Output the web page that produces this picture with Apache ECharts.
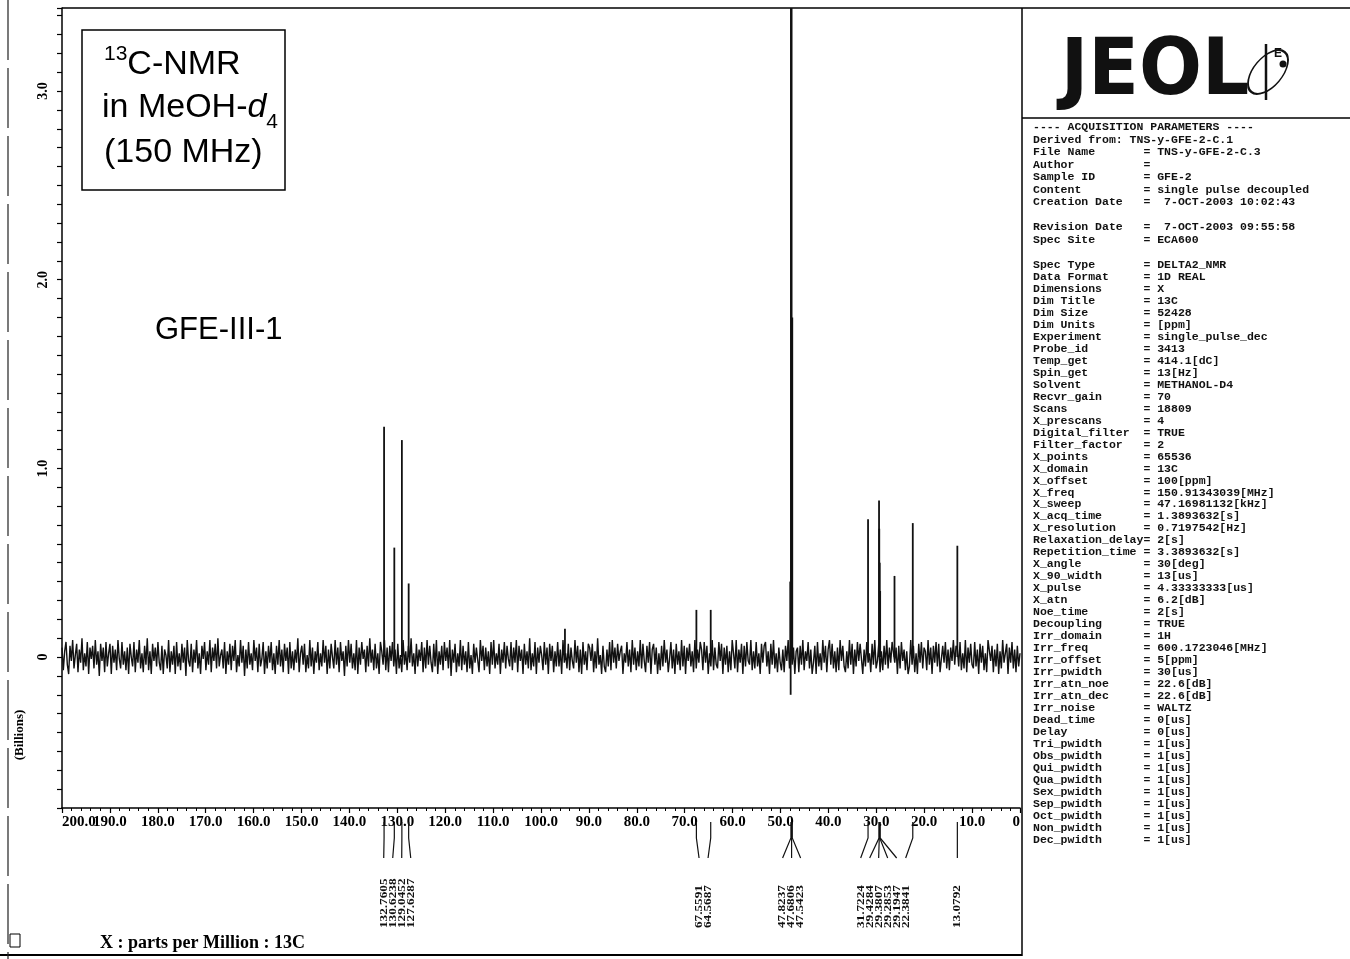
<!DOCTYPE html>
<html>
<head>
<meta charset="utf-8">
<script src="https://cdn.jsdelivr.net/npm/echarts@6/dist/echarts.min.js"></script>
<style>
html, body { margin: 0; padding: 0; background: #fff; }
#main { width: 1350px; height: 959px; }
</style>
</head>
<body>
<div id="main"></div>
<script>
// peak positions (ppm) and heights (billions)
var peakPpm    = [132.7605, 130.6238, 129.0452, 127.6287, 95.0, 67.5591, 64.5687, 47.9652, 47.8237, 47.6806, 47.5423, 47.88, 31.7224, 29.4284, 29.3807, 29.2853, 29.1947, 26.2, 22.3841, 13.0792];
var peakHeight = [1.22, 0.58, 1.15, 0.39, 0.15, 0.25, 0.25, 0.40, 5.0, 5.0, 1.80, -0.20, 0.73, 0.83, 0.68, 0.50, 0.35, 0.43, 0.71, 0.59];

// labelled peaks, grouped the way the pointer lines fan out
var labelGroups = [
  [132.7605, 130.6238, 129.0452, 127.6287],
  [67.5591, 64.5687],
  [47.8237, 47.6806, 47.5423],
  [31.7224, 29.4284, 29.3807, 29.2853, 29.1947, 22.3841],
  [13.0792]
];

// baseline noise, hundredths of a billion, left (200 ppm) to right (0 ppm)
var noise = [
  5,-7,3,8,-4,-9,6,-2,9,-6,1,7,
  -8,4,-3,10,-7,2,-5,8,-9,5,-1,6,
  -6,9,-4,3,-10,7,-2,5,-8,8,-5,2,
  7,-9,6,-3,4,-7,9,-1,-6,8,-4,3,
  -7,5,-9,7,0,-5,8,-8,4,-3,9,-6,
  2,-8,6,-4,10,-7,3,-9,7,-2,5,-5,
  8,-3,-7,6,-9,4,1,-6,9,-8,3,-4,
  6,-9,8,-5,2,-7,7,-3,5,-10,9,-2,
  -5,7,-8,4,-3,9,-6,2,-9,6,-1,8,
  -7,3,-4,9,-8,5,-2,7,-6,10,-5,1,
  4,-6,8,-9,3,-4,7,-7,6,-2,9,-8,
  1,-5,9,-3,6,-10,4,-6,8,-4,2,-7,
  9,-2,5,-8,7,-5,-1,8,-9,3,-6,6,
  -3,8,-7,2,-9,6,-4,9,-5,4,-8,7,
  -2,5,-9,8,-6,3,-7,4,-3,10,-8,2,
  6,-4,7,-8,1,-6,9,-5,5,-9,3,-3,
  8,-7,2,-5,9,-3,6,-9,4,-6,7,0,
  -6,9,-4,5,-8,8,-2,3,-10,6,-5,9,
  -3,7,-6,2,-7,9,-9,5,-4,8,-1,4,
  -8,6,-5,10,-3,4,-7,7,-6,2,-9,8,
  3,-4,9,-7,5,-8,6,-2,8,-5,4,-9,
  7,-6,1,-8,9,-4,3,-7,6,-3,10,-5,
  2,-9,7,-5,4,-2,8,-8,5,-6,9,-4,
  6,-3,-8,7,-5,9,-9,3,-4,6,-7,8,
  -2,5,-6,9,-10,4,-3,7,-8,2,-5,9,
  -7,6,-4,3,-8,8,-6,1,-9,7,-3,5,
  4,-8,9,-2,6,-7,5,-5,3,-9,8,-4,
  9,-6,2,-4,7,-9,4,-3,8,-6,6,-1,
  -5,8,-7,5,-3,9,-8,6,-2,4,-9,7,
  -4,3,-6,10,-7,2,-5,8,-9,5,-3,6,
  1,-7,8,-4,5,-9,7,-2,6,-8,3,-5,
  8,-5,4,-9,9,-3,2,-6,7,-7,5,-2,
  -6,9,-3,6,-8,4,-9,8,-4,3,-7,7,
  5,-2,7,-8,3,-6,10,-4,1,-9,6,-5,
  -8,4,-5,8,-7,9,-3,5,-6,7,-2,3,
  6,-9,2,-3,8,-5,4,-8,9,-4,5,-7,
  3,-5,9,-6,7,-2,-8,6,-3,8,-9,4,
  7,-4,5,-9,2,-7,6,-5,9,-3,4,-8,
  -1,8,-6,4,-9,7,-4,3,-7,9,-5,6,
  -9,5,-2,7,-5,3,-8,9,-6,4,-3,8,
  4,-7,8,-3,6,-9,2,-5,9,-7,5,-4,
  -6,8,-2,7,-9,5,-4,6,-8,3,-7,9,
  2,-6,9,-8,4,-3,7,-9,6,-5,8,-2,
  -4,9,-7,3,-6,8,-5,2,-9,7,-3,6,
  8,-5,3,-9,7,-4,9,-6,2,-8,5,-3,
  -7,4,-8,6,-2,9,-6,8,-4,5,-9,3,
  5,-8,6,-4,9,-7,3,-2,8,-6,4,-9,
  -3,6,-9,8,-5,2,-7,9,-3,6,-8,4,
  9,-4,7,-6,3,-8,5,-7,9,-2,6,-5,
  -8,3,-6,9,-4,7,-9,4,-5,8,-2,7,
  6,-9,4,-5,8,-3,2,-8,7,-4,9,-6,
  -2,7,-8,3,-7,6,-4,9,-6,5,-3,8,
  7,-3,5,-9,6,-6,8,-2,4,-7,3,-9,
  -5,9,-4,6,-8,2,-9,7,-3,8,-6,5,
  3,-7,9,-4,5,-9,6,-3,8,-5,7,-8,
  -9,6,-3,8,-6,4,-7,5,-2,9,-4,6,
  4,-5,8,-7,2,-6,9,-8,5,-3,7,-4,
  -6,8,-5,4,-9,7,-3,6,-7,2,-8,9,
  8,-2,6,-8,4,-5,7,-9,3,-6,9,-3,
  -4,7,-9,5,-3,8,-6,4,-8,6,-5,2
];

// acquisition parameter sheet
var paramHead = [
  '---- ACQUISITION PARAMETERS ----',
  'Derived from: TNS-y-GFE-2-C.1',
  ['File Name', 'TNS-y-GFE-2-C.3'],
  ['Author', ''],
  ['Sample ID', 'GFE-2'],
  ['Content', 'single pulse decoupled'],
  ['Creation Date', ' 7-OCT-2003 10:02:43'],
  '',
  ['Revision Date', ' 7-OCT-2003 09:55:58'],
  ['Spec Site', 'ECA600']
];
var paramBody = [
  ['Spec Type', 'DELTA2_NMR'], ['Data Format', '1D REAL'], ['Dimensions', 'X'],
  ['Dim Title', '13C'], ['Dim Size', '52428'], ['Dim Units', '[ppm]'],
  ['Experiment', 'single_pulse_dec'], ['Probe_id', '3413'], ['Temp_get', '414.1[dC]'],
  ['Spin_get', '13[Hz]'], ['Solvent', 'METHANOL-D4'], ['Recvr_gain', '70'],
  ['Scans', '18809'], ['X_prescans', '4'], ['Digital_filter', 'TRUE'],
  ['Filter_factor', '2'], ['X_points', '65536'], ['X_domain', '13C'],
  ['X_offset', '100[ppm]'], ['X_freq', '150.91343039[MHz]'], ['X_sweep', '47.16981132[kHz]'],
  ['X_acq_time', '1.3893632[s]'], ['X_resolution', '0.7197542[Hz]'], ['Relaxation_delay', '2[s]'],
  ['Repetition_time', '3.3893632[s]'], ['X_angle', '30[deg]'], ['X_90_width', '13[us]'],
  ['X_pulse', '4.33333333[us]'], ['X_atn', '6.2[dB]'], ['Noe_time', '2[s]'],
  ['Decoupling', 'TRUE'], ['Irr_domain', '1H'], ['Irr_freq', '600.1723046[MHz]'],
  ['Irr_offset', '5[ppm]'], ['Irr_pwidth', '30[us]'], ['Irr_atn_noe', '22.6[dB]'],
  ['Irr_atn_dec', '22.6[dB]'], ['Irr_noise', 'WALTZ'], ['Dead_time', '0[us]'],
  ['Delay', '0[us]'], ['Tri_pwidth', '1[us]'], ['Obs_pwidth', '1[us]'],
  ['Qui_pwidth', '1[us]'], ['Qua_pwidth', '1[us]'], ['Sex_pwidth', '1[us]'],
  ['Sep_pwidth', '1[us]'], ['Oct_pwidth', '1[us]'], ['Non_pwidth', '1[us]'],
  ['Dec_pwidth', '1[us]']
];

function paramLine(p) {
  if (typeof p === 'string') return p;
  var name = p[0];
  while (name.length < 16) name += ' ';
  return name + '= ' + p[1];
}

var ctx = document.createElement('canvas').getContext('2d');
function textWidth(t, font) { ctx.font = font; return ctx.measureText(t).width; }

var peakData = peakPpm.map(function (p, i) { return [p, peakHeight[i]]; });
var noiseData = noise.map(function (v) { return v / 100; });
var noiseCats = noise.map(function (v, i) { return i; });

var labelData = [];
labelGroups.forEach(function (g) {
  var c = g.reduce(function (a, b) { return a + b; }, 0) / g.length;
  g.forEach(function (p, k) { labelData.push([p, k - (g.length - 1) / 2, c]); });
});

var serif = '"Liberation Serif", "Times New Roman", serif';
var sans = '"Liberation Sans", Arial, sans-serif';
var mono = '"Liberation Mono", "DejaVu Sans Mono", monospace';

var bigFont = '34px ' + sans;
var supFont = '21px ' + sans;
var w13 = textWidth('13', supFont);
var wIn = textWidth('in MeOH-', bigFont);
var wD = textWidth('d', 'italic ' + bigFont);

var tickLabelStyle = { color: '#000', fontFamily: serif, fontWeight: 'bold', fontSize: 15, margin: 7 };

var myChart = echarts.init(document.getElementById('main'));
var option = {
  animation: false,
  backgroundColor: '#fff',
  grid: { left: 62, right: 330, top: 8, bottom: 151 },
  xAxis: [{
    type: 'value', min: 0, max: 200, interval: 10, inverse: true, position: 'bottom',
    axisLine: { show: true, onZero: false, lineStyle: { color: '#000', width: 1.5 } },
    axisTick: { show: true, length: 5, lineStyle: { color: '#000', width: 1.2 } },
    minorTick: { show: true, splitNumber: 5, length: 3, lineStyle: { color: '#000' } },
    splitLine: { show: false },
    axisLabel: Object.assign({}, tickLabelStyle, {
      showMinLabel: true, showMaxLabel: true, hideOverlap: false, alignMinLabel: 'right',
      formatter: function (v) { return v === 200 ? '' : (v === 0 ? '0' : v.toFixed(1)); }
    })
  }, {
    type: 'category', data: noiseCats, boundaryGap: false, show: false
  }, {
    // only carries the left-aligned end label "200.0"
    type: 'value', min: 0, max: 200, interval: 10, inverse: true, position: 'bottom',
    axisLine: { show: false }, axisTick: { show: false }, splitLine: { show: false },
    axisLabel: Object.assign({}, tickLabelStyle, {
      showMinLabel: true, showMaxLabel: true, hideOverlap: false, alignMaxLabel: 'left', alignMinLabel: 'left',
      formatter: function (v) { return v === 200 ? '200.0' : ''; }
    })
  }],
  yAxis: {
    type: 'value', min: -0.8, max: 3.44, interval: 0.1,
    axisLine: { show: true, onZero: false, lineStyle: { color: '#000', width: 1.5 } },
    axisTick: { show: true, length: 5, lineStyle: { color: '#000', width: 1.2 } },
    splitLine: { show: false },
    axisLabel: {
      rotate: 90, margin: 12, color: '#000', fontFamily: serif, fontWeight: 'bold', fontSize: 14,
      formatter: function (v) {
        if (Math.abs(v - Math.round(v)) > 1e-6) return '';
        return Math.round(v) === 0 ? '0' : Math.round(v).toFixed(1);
      }
    }
  },
  series: [{
    type: 'line', xAxisIndex: 1, yAxisIndex: 0, data: noiseData,
    symbol: 'none', lineStyle: { color: '#111', width: 1.4 }, silent: true
  }, {
    type: 'custom', xAxisIndex: 0, yAxisIndex: 0, data: peakData, clip: true,
    encode: { x: 0, y: 1 },
    renderItem: function (params, api) {
      var b = api.coord([api.value(0), 0]);
      var t = api.coord([api.value(0), api.value(1)]);
      return { type: 'line', shape: { x1: b[0], y1: b[1], x2: t[0], y2: t[1] },
        style: { stroke: '#111', lineWidth: 1.8 } };
    }
  }, {
    type: 'custom', xAxisIndex: 0, yAxisIndex: 0, data: labelData, clip: false,
    encode: { x: 0, y: 1 },
    renderItem: function (params, api) {
      var px = api.coord([api.value(0), 0])[0];
      var cx = api.coord([api.value(2), 0])[0] + api.value(1) * 9;
      var y0 = params.coordSys.y + params.coordSys.height;
      return { type: 'group', children: [
        { type: 'polyline', shape: { points: [[px, y0 + 14], [px, y0 + 30], [cx, y0 + 50]] },
          style: { stroke: '#111', lineWidth: 1.2, fill: null } },
        { type: 'text', x: cx, y: y0 + 120, rotation: Math.PI / 2, scaleX: 1.2,
          style: { text: api.value(0).toFixed(4), fill: '#111', font: 'bold 11px ' + serif,
            align: 'left', verticalAlign: 'middle' } }
      ] };
    }
  }],
  graphic: [
    { type: 'line', shape: { x1: 62, y1: 8, x2: 1350, y2: 8 }, style: { stroke: '#000', lineWidth: 1.5 } },
    { type: 'line', shape: { x1: 1022, y1: 8, x2: 1022, y2: 956 }, style: { stroke: '#000', lineWidth: 1.5 } },
    { type: 'line', shape: { x1: 1022, y1: 118, x2: 1350, y2: 118 }, style: { stroke: '#000', lineWidth: 1.5 } },
    { type: 'line', shape: { x1: 0, y1: 955, x2: 1022, y2: 955 }, style: { stroke: '#000', lineWidth: 2 } },
    { type: 'line', shape: { x1: 8, y1: 0, x2: 8, y2: 959 }, style: { stroke: '#222', lineWidth: 1.2, lineDash: [60, 8] } },
    { type: 'rect', shape: { x: 10, y: 934, width: 10, height: 13 }, style: { stroke: '#000', fill: null, lineWidth: 1 } },

    // sample box
    { type: 'rect', shape: { x: 82, y: 30, width: 203, height: 160 }, style: { stroke: '#000', fill: null, lineWidth: 1.5 } },
    { type: 'text', x: 104, y: 54, style: { text: '13', font: supFont, fill: '#000', align: 'left', verticalAlign: 'middle' } },
    { type: 'text', x: 104 + w13, y: 65, style: { text: 'C-NMR', font: bigFont, fill: '#000', align: 'left', verticalAlign: 'middle' } },
    { type: 'text', x: 102, y: 108, style: { text: 'in MeOH-', font: bigFont, fill: '#000', align: 'left', verticalAlign: 'middle' } },
    { type: 'text', x: 102 + wIn, y: 108, style: { text: 'd', font: 'italic ' + bigFont, fill: '#000', align: 'left', verticalAlign: 'middle' } },
    { type: 'text', x: 102 + wIn + wD, y: 122, style: { text: '4', font: supFont, fill: '#000', align: 'left', verticalAlign: 'middle' } },
    { type: 'text', x: 104, y: 153, style: { text: '(150 MHz)', font: bigFont, fill: '#000', align: 'left', verticalAlign: 'middle' } },
    { type: 'text', x: 155, y: 330, style: { text: 'GFE-III-1', font: '31px ' + sans, fill: '#000', align: 'left', verticalAlign: 'middle' } },

    // axis captions
    { type: 'text', x: 20, y: 735, rotation: Math.PI / 2, style: { text: '(Billions)', font: 'bold 13px ' + serif, fill: '#000', align: 'center', verticalAlign: 'middle' } },
    { type: 'text', x: 100, y: 943, style: { text: 'X : parts per Million : 13C', font: 'bold 18px ' + serif, fill: '#000', align: 'left', verticalAlign: 'middle' } },

    // JEOL logo
    { type: 'text', x: 1155, y: 74, scaleX: 0.95, style: { text: 'JEOL', font: '900 78px "DejaVu Sans", sans-serif', fill: '#111', align: 'center', verticalAlign: 'middle' } },
    { type: 'circle', x: 1268, y: 72, rotation: -0.7, scaleX: 0.55, shape: { cx: 0, cy: 0, r: 26 }, style: { stroke: '#111', fill: null, lineWidth: 2.5 } },
    { type: 'line', shape: { x1: 1266, y1: 44, x2: 1266, y2: 100 }, style: { stroke: '#111', lineWidth: 2.5 } },
    { type: 'text', x: 1274, y: 54, style: { text: 'E', font: 'bold 12px ' + sans, fill: '#111', align: 'left', verticalAlign: 'middle' } },
    { type: 'circle', shape: { cx: 1283, cy: 64, r: 3.5 }, style: { fill: '#111' } },

    // parameter sheet
    { type: 'text', x: 1033, y: 121, style: { text: paramHead.map(paramLine).join('\n'), font: 'bold 11.5px ' + mono, lineHeight: 12.5, fill: '#111', align: 'left', verticalAlign: 'top' } },
    { type: 'text', x: 1033, y: 259, style: { text: paramBody.map(paramLine).join('\n'), font: 'bold 11.5px ' + mono, lineHeight: 11.98, fill: '#111', align: 'left', verticalAlign: 'top' } }
  ]
};
myChart.setOption(option);
</script>
</body>
</html>
